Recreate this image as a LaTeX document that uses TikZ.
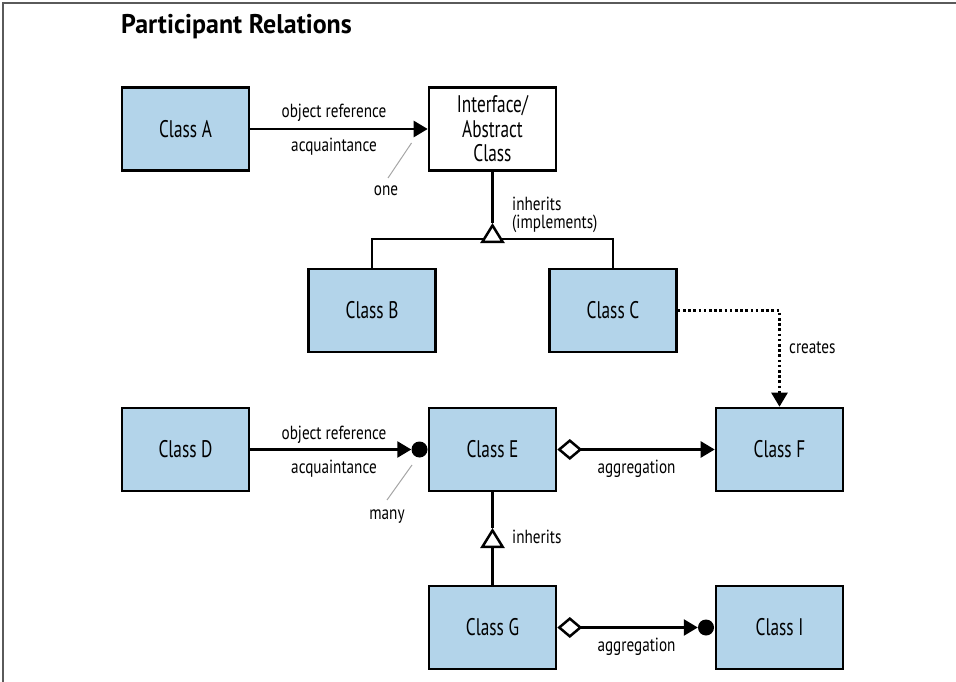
\documentclass[tikz,border=0pt]{standalone}
\usepackage{fontspec}
\usetikzlibrary{arrows.meta}
\newfontfamily\narrowfont[FakeStretch=0.72]{PT Sans}
\newfontfamily\labelfont[FakeStretch=0.8]{PT Sans}
\newfontfamily\titlefont[FakeStretch=0.96]{PT Sans}
\definecolor{boxblue}{RGB}{179,212,234}
\definecolor{framegray}{RGB}{90,90,90}
\tikzset{
  cls/.style={draw=black, line width=2.6pt, fill=boxblue, minimum width=127pt, minimum height=83pt, inner sep=0pt, font=\narrowfont\fontsize{24}{24.5}\selectfont, align=center},
  ifc/.style={cls, fill=white},
  lbl/.style={font=\labelfont\fontsize{19}{19}\selectfont, inner sep=0pt},
  conn/.style={draw=black, line width=2.5pt},
  dotline/.style={draw=black, line width=2.5pt, dash pattern=on 2.6pt off 2.6pt},
  leader/.style={draw=gray!70, line width=1pt},
  solidtip/.tip={Triangle[length=14pt,width=16pt]},
  opentri/.tip={Triangle[open,length=20pt,width=24pt,fill=white]},
  opendia/.tip={Diamond[open,length=25pt,width=21pt,fill=white]},
  dot/.style={circle, fill=black, inner sep=0pt, minimum size=16pt}
}
\begin{document}
\begin{tikzpicture}[x=1pt,y=-1pt]
\useasboundingbox (0,0) rectangle (956,682);
% frame (top and left edges)
\draw[framegray, line width=1.4pt] (3,682) -- (3,3) -- (956,3);
% title
\node[anchor=base west, inner sep=0pt, font=\titlefont\bfseries\fontsize{27}{28}\selectfont] (title) at (121,34) {Participant Relations};
% classes
\node[cls] (A) at (185.5,129) {Class A};
\node[ifc] (If) at (492.5,129) {Interface/\\Abstract\\Class};
\node[cls] (B) at (372,310.5) {Class B};
\node[cls] (C) at (613,310.5) {Class C};
\node[cls] (D) at (185.5,449.5) {Class D};
\node[cls] (E) at (492.5,449.5) {Class E};
\node[cls] (F) at (779.5,449.5) {Class F};
\node[cls] (G) at (492.5,627.5) {Class G};
\node[cls] (I) at (779.5,627.5) {Class I};
% A -> Interface
\draw[conn, -solidtip] (A) -- (If);
\node[lbl, anchor=base] (a1) at (334,118) {object reference};
\node[lbl, anchor=base] (a2) at (334,152) {acquaintance};
\node[lbl, anchor=base] (one) at (386,195) {one};
\coordinate (l1a) at (411.5,143);
\coordinate (l1b) at (388,178);
\draw[leader] (l1a) -- (l1b);
% inheritance Interface -> B, C
\coordinate (hub) at (492.5,239);
\coordinate (apex) at (492.5,223);
\draw[conn] (B.north) |- (hub) -| (C.north);
\draw[conn] (If.south) -- (apex);
\draw[conn, -opentri] (hub) -- (apex);
\node[lbl, anchor=base west] (inh1) at (512,210) {inherits};
\node[lbl, anchor=base west] (inh2) at (512,228) {(implements)};
% C creates F
\draw[dotline, -solidtip] (C.east) -| (F.north);
\node[lbl, anchor=base west] (cr) at (789,353) {creates};
% D -> E
\node[dot] (edot) at (419.5,449.5) {};
\draw[conn, -solidtip] (D) -- (edot);
\node[lbl, anchor=base] (d1) at (334,439) {object reference};
\node[lbl, anchor=base] (d2) at (334,473) {acquaintance};
\node[lbl, anchor=base] (many) at (387,519) {many};
\coordinate (l2a) at (412,465);
\coordinate (l2b) at (387,500);
\draw[leader] (l2a) -- (l2b);
% E -> F aggregation
\draw[conn, opendia-solidtip] (E) -- (F);
\node[lbl, anchor=base] (ag1) at (636.5,473) {aggregation};
% G inherits E
\coordinate (gapex) at (492.5,528);
\draw[conn] (E.south) -- (gapex);
\draw[conn, -opentri] (G.north) -- (gapex);
\node[lbl, anchor=base west] (inh3) at (512,543) {inherits};
% G -> I aggregation
\node[dot] (idot) at (706,627.5) {};
\draw[conn, opendia-solidtip] (G) -- (idot);
\node[lbl, anchor=base] (ag2) at (636.5,651) {aggregation};
\end{tikzpicture}
\end{document}
